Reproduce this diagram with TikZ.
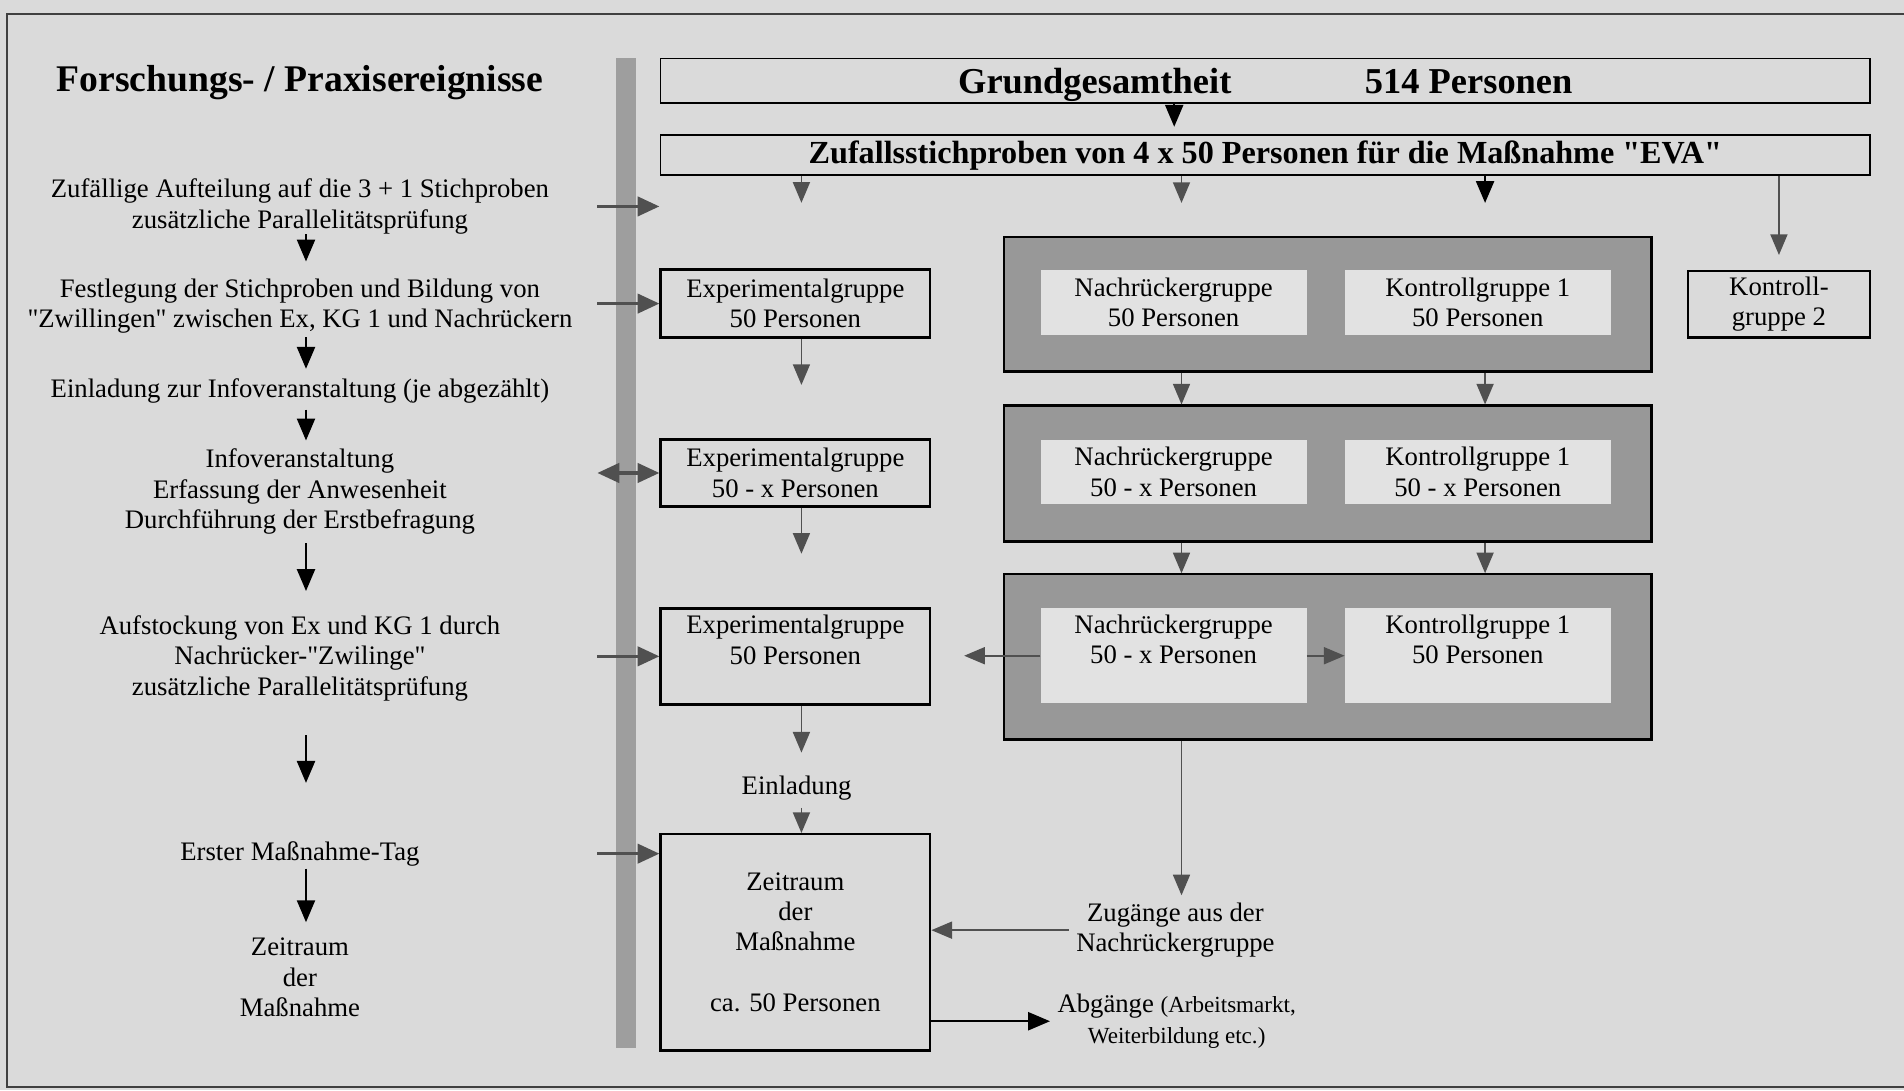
\documentclass[tikz,border=0pt]{standalone}
\usepackage{fontspec}
\setmainfont{Liberation Serif}[Ligatures=TeXOff]
\usetikzlibrary{arrows.meta}
\definecolor{bgcol}{RGB}{218,218,218}
\definecolor{panelcol}{RGB}{152,152,152}
\definecolor{subcol}{RGB}{226,226,226}
\definecolor{barcol}{RGB}{158,158,158}
\definecolor{arrcol}{RGB}{80,80,80}
\begin{document}
\begin{tikzpicture}[x=1pt,y=1pt,yscale=-1,
    txt/.style={inner sep=0pt,align=center,font=\fontsize{22}{25}\selectfont},
    box/.style={draw=black,line width=2pt,inner sep=0pt,align=center,minimum width=222pt,font=\fontsize{22}{25}\selectfont},
    headbox/.style={draw=black,line width=1.3pt,inner sep=0pt,minimum width=996pt},
    panel/.style={draw=black,line width=1.8pt,fill=panelcol,minimum width=533pt},
    subbox/.style={fill=subcol,inner sep=0pt,align=center,minimum width=219pt,font=\fontsize{22}{25}\selectfont},
    barr/.style={-{Triangle[length=18pt,width=15pt]},line width=1.3pt,black},
    garr/.style={-{Triangle[length=17pt,width=14pt]},line width=1.4pt,arrcol},
    inarr/.style={-{Triangle[length=18pt,width=16pt]},line width=2.6pt,arrcol},
  ]
  \fill[bgcol] (0,0) rectangle (1568,898);
  \useasboundingbox (0,0) rectangle (1568,898);
  %Frame (open on the right)
  \draw[line width=1.6pt,black!75] (1568,11.5) -- (6,11.5) -- (6,895) -- (1568,895);
  %Grey bar
  \fill[barcol] (507,48) rectangle (524,863);

  % Text Node
  \node (title) at (247,68) [txt,font=\bfseries\fontsize{31}{34}\selectfont] {Forschungs- / Praxisereignisse};
  % Text Node
  \node (auft) at (247,170) [txt] {Zufällige Aufteilung auf die 3 + 1 Stichproben\\zusätzliche Parallelitätsprüfung};
  % Text Node
  \node (festl) at (247,252) [txt] {Festlegung der Stichproben und Bildung von\\"Zwillingen" zwischen Ex, KG 1 und Nachrückern};
  % Text Node
  \node (einl) at (247,322) [txt] {Einladung zur Infoveranstaltung (je abgezählt)};
  % Text Node
  \node (infov) at (247,405) [txt] {Infoveranstaltung\\Erfassung der Anwesenheit\\Durchführung der Erstbefragung};
  % Text Node
  \node (aufst) at (247,542) [txt] {Aufstockung von Ex und KG 1 durch\\Nachrücker-"Zwilinge"\\zusätzliche Parallelitätsprüfung};
  % Text Node
  \node (erster) at (247,703) [txt] {Erster Maßnahme-Tag};
  % Text Node
  \node (zeitl) at (247,805) [txt] {Zeitraum\\der\\Maßnahme};

  %Head boxes
  \node (grund) at (1042,66.5) [headbox,minimum height=37pt,text height=27pt,text depth=6.5pt,font=\bfseries\fontsize{30}{34}\selectfont] {Grundgesamtheit\hspace{110pt}514 Personen};
  \node (zufall) at (1042,127.5) [headbox,minimum height=33pt,text height=21pt,text depth=6pt,font=\bfseries\fontsize{26.5}{30}\selectfont] {Zufallsstichproben von 4 x 50 Personen für die Maßnahme "EVA"};

  %Experimentalgruppe
  \node (ex1) at (655,250) [box,minimum height=56pt] {Experimentalgruppe\\50 Personen};
  \node (ex2) at (655,389.5) [box,minimum height=55pt] {Experimentalgruppe\\50 - x Personen};
  \node (ex3) at (655,540.5) [box,minimum height=79pt] {\begin{tabular}{@{}c@{}}Experimentalgruppe\\50 Personen\\[22pt]\end{tabular}};
  \node (einlad) at (656,649) [txt] {Einladung};
  \node (zeit) at (655,776) [box,minimum height=178pt] {Zeitraum\\der\\Maßnahme\\[25pt]ca. 50 Personen};

  %Panels
  \node (p1) at (1093.5,250.5) [panel,minimum height=111pt] {};
  \node (p2) at (1093.5,390) [panel,minimum height=112pt] {};
  \node (p3) at (1093.5,541) [panel,minimum height=136pt] {};
  \node (nr1) at (966.5,249) [subbox,minimum height=54pt] {Nachrückergruppe\\50 Personen};
  \node (kg1) at (1217,249) [subbox,minimum height=54pt] {Kontrollgruppe 1\\50 Personen};
  \node (nr2) at (966.5,388.5) [subbox,minimum height=53pt] {Nachrückergruppe\\50 - x Personen};
  \node (kg2) at (1217,388.5) [subbox,minimum height=53pt] {Kontrollgruppe 1\\50 - x Personen};
  \node (nr3) at (966.5,540) [subbox,minimum height=78pt] {\begin{tabular}{@{}c@{}}Nachrückergruppe\\50 - x Personen\\[22pt]\end{tabular}};
  \node (kg3) at (1217,540) [subbox,minimum height=78pt] {\begin{tabular}{@{}c@{}}Kontrollgruppe 1\\50 Personen\\[22pt]\end{tabular}};
  \node (kgzwei) at (1465,250.5) [box,minimum width=150pt,minimum height=55pt] {Kontroll-\\gruppe 2};

  % Text Node
  \node (zug) at (968,766) [txt] {Zugänge aus der\\Nachrückergruppe};
  % Text Node
  \node (abg) at (969,841) [txt] {Abgänge {\fontsize{19}{23}\selectfont(Arbeitsmarkt,}\\{\fontsize{19}{23}\selectfont Weiterbildung etc.)}};

  %Arrow columns
  \coordinate (colL) at (252,0);
  \coordinate (colE) at (660,0);
  \coordinate (colG) at (967,0);
  \coordinate (colN) at (973,0);
  \coordinate (colK) at (1223,0);
  \coordinate (barin) at (492,0);

  %Left column arrows
  \draw[barr,shorten >=14pt] (auft.south -| colL) -- (festl.north -| colL);
  \draw[barr,shorten >=8pt,shorten <=3pt] (festl.south -| colL) -- (einl.north -| colL);
  \draw[barr,shorten >=7pt,shorten <=5pt] (einl.south -| colL) -- (infov.north -| colL);
  \draw[barr,shorten >=20pt,shorten <=7pt] (infov.south -| colL) -- (aufst.north -| colL);
  \draw[barr,shorten >=48pt,shorten <=28pt] (aufst.south -| colL) -- (erster.north -| colL);
  \draw[barr,shorten >=13pt,shorten <=2pt] (erster.south -| colL) -- (zeitl.north -| colL);

  %Arrows into the column
  \draw[inarr] (auft -| barin) -- (auft -| ex1.west);
  \draw[inarr] (ex1.west -| barin) -- (ex1.west);
  \draw[inarr,{Triangle[length=18pt,width=16pt]}-{Triangle[length=18pt,width=16pt]}] (ex2.west -| barin) -- (ex2.west);
  \draw[inarr] (ex3.west -| barin) -- (ex3.west);
  \draw[inarr] (erster -| barin) -- (erster -| zeit.west);

  %Arrows right part
  \draw[barr,shorten >=6pt] (grund.south -| colG) -- (zufall.north -| colG);
  \draw[garr,shorten >=54pt] (zufall.south -| colE) -- (ex1.north -| colE);
  \draw[garr,shorten >=27pt] (zufall.south -| colN) -- (p1.north -| colN);
  \draw[barr,shorten >=27pt] (zufall.south -| colK) -- (p1.north -| colK);
  \draw[garr,shorten >=12pt] (zufall.south -| kgzwei) -- (kgzwei.north);
  \draw[garr,shorten >=44pt] (ex1.south -| colE) -- (ex2.north -| colE);
  \draw[garr,shorten >=44pt] (ex2.south -| colE) -- (ex3.north -| colE);
  \draw[garr,shorten >=19pt] (ex3.south -| colE) -- (einlad.north -| colE);
  \draw[garr,shorten <=6pt] (einlad.south -| colE) -- (zeit.north -| colE);
  \draw[garr] (p1.south -| colN) -- (p2.north -| colN);
  \draw[garr] (p1.south -| colK) -- (p2.north -| colK);
  \draw[garr] (p2.south -| colN) -- (p3.north -| colN);
  \draw[garr] (p2.south -| colK) -- (p3.north -| colK);
  \draw[garr,shorten >=27pt] (nr3.west) -- (nr3.west -| ex3.east);
  \draw[garr] (nr3.east) -- (kg3.west);
  \draw[garr,shorten >=6pt] (p3.south -| colN) -- (zug.north -| colN);
  \draw[garr,shorten <=6pt] (zug.west) -- (zug.west -| zeit.east);
  \draw[barr,shorten >=6pt] (abg.west -| zeit.east) -- (abg.west);
\end{tikzpicture}
\end{document}
